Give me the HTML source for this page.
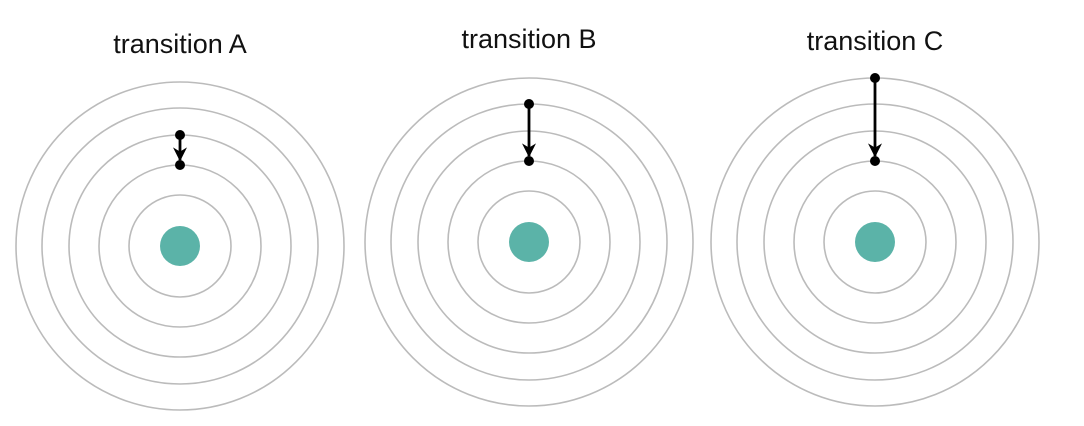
<!DOCTYPE html>
<html><head><meta charset="utf-8"><style>
html,body{margin:0;padding:0;background:#fff;}
svg{display:block;}
text{font-family:"Liberation Sans",sans-serif;font-size:27px;fill:#111;}
</style></head><body>
<svg id="chart" width="1084" height="426" viewBox="0 0 1084 426">
<defs><marker id="ah" viewBox="0 0 10 10" refX="9" refY="5" markerWidth="6" markerHeight="5" orient="auto" markerUnits="strokeWidth"><path d="M0,0 L10,5 L0,10 L3,5 Z" fill="#000"/></marker></defs>
</svg>
<script>
const titles = ["transition A","transition B","transition C"];
const fromLevel = [3,4,5];
const toLevel = [2,2,2];
const ringRadii = [51,81,111,138,164];
const cx = [180,529,875], cy = [246,242,242], ty = [53,48,50];
const svg = document.getElementById('chart');
const NS = 'http://www.w3.org/2000/svg';
function mk(tag, attrs){const e=document.createElementNS(NS,tag);for(const k in attrs)e.setAttribute(k,attrs[k]);svg.appendChild(e);return e;}
titles.forEach((t,i)=>{
  const g = cx[i], h = cy[i];
  const tx = mk('text',{x:g,y:ty[i],'text-anchor':'middle'});
  tx.textContent = t;
  
  
  ringRadii.forEach((r,j)=>{
    const c = mk('circle',{cx:g,cy:h,r:r,fill:'none',stroke:'#bbb','stroke-width':1.6});
    
    
  });
  const n = mk('circle',{cx:g,cy:h,r:20,fill:'#5bb3a8'});
  
  
  const y1 = h - ringRadii[fromLevel[i]-1], y2 = h - ringRadii[toLevel[i]-1];
  const ln = mk('line',{x1:g,y1:y1,x2:g,y2:y2-5,stroke:'#000','stroke-width':2.8,'marker-end':'url(#ah)'});
  
  
  [y1,y2].forEach(y=>{
    const d = mk('circle',{cx:g,cy:y,r:5,fill:'#000'});
    
    
  });
});
</script>
</body></html>
